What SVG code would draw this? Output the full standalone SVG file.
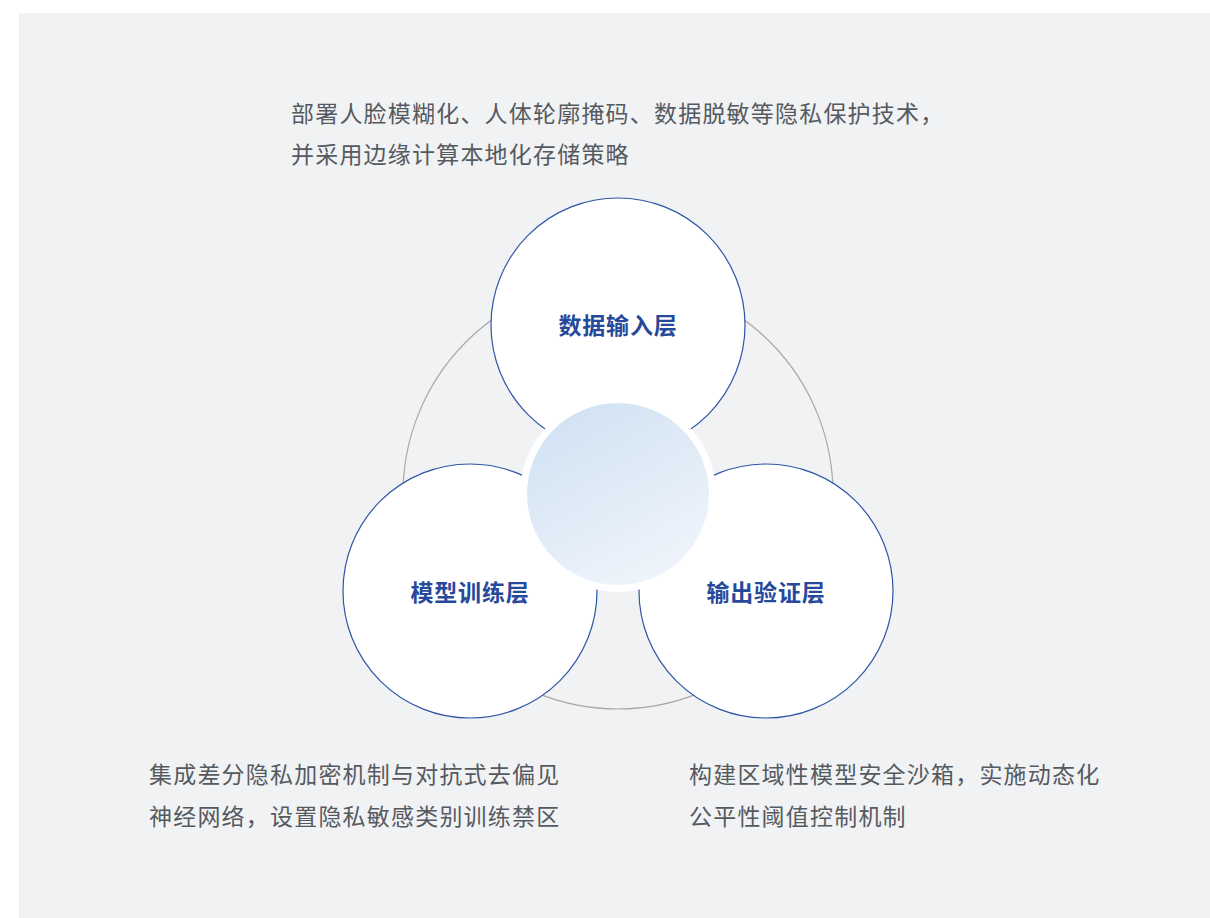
<svg xmlns="http://www.w3.org/2000/svg" width="1210" height="918" viewBox="0 0 1210 918">
<defs>
<linearGradient id="cg" x1="0.25" y1="0.05" x2="0.75" y2="0.95">
<stop offset="0" stop-color="#d2e3f3"/>
<stop offset="1" stop-color="#eff4fb"/>
</linearGradient>
<style>
.body{font-family:"Noto Sans CJK SC","Noto Sans",sans-serif;font-size:23px;fill:#555a60;letter-spacing:1.2px}
.lbl{font-family:"Noto Sans CJK SC","Noto Sans",sans-serif;font-size:23px;font-weight:bold;fill:#27499a;letter-spacing:0.8px;text-anchor:middle;dominant-baseline:central}
.node{fill:#ffffff;stroke:#2f56a6;stroke-width:1.2}
</style>
</defs>
<rect width="1210" height="918" fill="#ffffff"/>
<rect x="19" y="13" width="1191" height="905" fill="#f1f2f4"/>
<g id="connectors">
<circle cx="618" cy="494" r="215" fill="none" stroke="#a9a9a9" stroke-width="1.2"/>
</g>
<g id="node-input">
<circle class="node" cx="618" cy="325" r="127"/>
<text class="lbl" x="618" y="324">数据输入层</text>
</g>
<g id="node-train">
<circle class="node" cx="470" cy="591" r="127"/>
<text class="lbl" x="470" y="591">模型训练层</text>
</g>
<g id="node-output">
<circle class="node" cx="766" cy="591" r="127"/>
<text class="lbl" x="766" y="591">输出验证层</text>
</g>
<g id="node-center">
<circle cx="618" cy="494" r="98" fill="#ffffff"/>
<circle cx="618" cy="494" r="91" fill="url(#cg)"/>
</g>
<g id="desc-top">
<text class="body" x="291" y="122">部署人脸模糊化、人体轮廓掩码、数据脱敏等隐私保护技术，</text>
<text class="body" x="291" y="163">并采用边缘计算本地化存储策略</text>
</g>
<g id="desc-left">
<text class="body" x="149" y="783">集成差分隐私加密机制与对抗式去偏见</text>
<text class="body" x="149" y="825">神经网络，设置隐私敏感类别训练禁区</text>
</g>
<g id="desc-right">
<text class="body" x="689" y="783">构建区域性模型安全沙箱，实施动态化</text>
<text class="body" x="689" y="825">公平性阈值控制机制</text>
</g>
</svg>
